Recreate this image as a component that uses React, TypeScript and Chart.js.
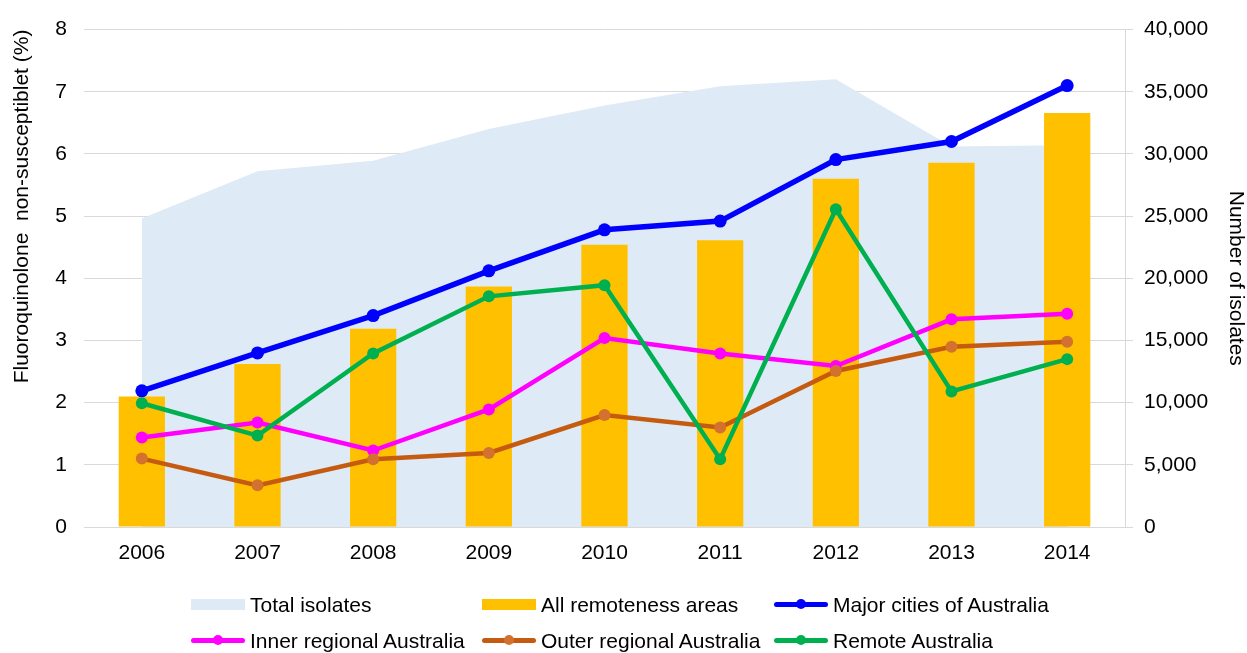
import React, { useEffect, useRef } from 'react';
import { Chart, registerables } from 'chart.js';

Chart.register(...registerables);

const years = ['2006', '2007', '2008', '2009', '2010', '2011', '2012', '2013', '2014'];
const totalIsolates = [24800, 28600, 29450, 32000, 33900, 35450, 36000, 30600, 30700];
const allRemoteness = [2.1, 2.62, 3.19, 3.87, 4.54, 4.61, 5.6, 5.86, 6.66];
const majorCities = [2.19, 2.8, 3.4, 4.12, 4.78, 4.92, 5.91, 6.2, 7.1];
const innerRegional = [1.44, 1.68, 1.23, 1.89, 3.04, 2.79, 2.59, 3.34, 3.43];
const outerRegional = [1.1, 0.67, 1.09, 1.19, 1.8, 1.6, 2.51, 2.9, 2.98];
const remoteAustralia = [1.99, 1.47, 2.79, 3.71, 3.89, 1.09, 5.11, 2.18, 2.7];

const leftTicks = [0, 1, 2, 3, 4, 5, 6, 7, 8];
const rightTicks = [0, 5000, 10000, 15000, 20000, 25000, 30000, 35000, 40000];

const seriesLabels = [
  'Total isolates',
  'All remoteness areas',
  'Major cities of Australia',
  'Inner regional Australia',
  'Outer regional Australia',
  'Remote Australia',
];

const leftTitle = 'Fluoroquinolone  non-susceptiblet (%)';
const rightTitle = 'Number of isolates';

const FONT = "'Liberation Sans', Arial, sans-serif";
const areaColor = '#DEEAF6';
const barColor = '#FFC000';
const blue = '#0000FF';
const pink = '#FF00FF';
const brown = '#C55A11';
const brownPoint = '#D2722E';
const green = '#00B050';
const gridColor = '#D9D9D9';

const legendSpec = [
  { kind: 'rect', color: areaColor },
  { kind: 'rect', color: barColor },
  { kind: 'line', color: blue, point: blue },
  { kind: 'line', color: pink, point: pink },
  { kind: 'line', color: brown, point: brownPoint },
  { kind: 'line', color: green, point: green },
];
const legendCols = [191, 482, 774];
const legendRows = [604, 640];

export default function App() {
  const canvasRef = useRef<HTMLCanvasElement | null>(null);

  useEffect(() => {
    document.body.style.margin = '0';
    const canvas = canvasRef.current;
    if (!canvas) return;
    const lineDs = (label: string, data: number[], color: string, pColor: string, width: number, radius: number, order: number) => ({
      type: 'line' as const,
      label,
      data,
      yAxisID: 'y',
      borderColor: color,
      backgroundColor: pColor,
      pointBackgroundColor: pColor,
      pointBorderColor: pColor,
      borderWidth: width,
      pointRadius: radius,
      pointBorderWidth: 0,
      fill: false,
      tension: 0,
      order,
    });
    const chart = new Chart(canvas, {
      type: 'bar',
      data: {
        labels: years,
        datasets: [
          {
            type: 'line' as const,
            label: seriesLabels[0],
            data: totalIsolates,
            yAxisID: 'y1',
            backgroundColor: areaColor,
            borderWidth: 0,
            borderColor: areaColor,
            pointRadius: 0,
            fill: 'origin',
            tension: 0,
            order: 6,
          },
          {
            type: 'bar' as const,
            label: seriesLabels[1],
            data: allRemoteness,
            yAxisID: 'y',
            backgroundColor: barColor,
            barPercentage: 0.4,
            categoryPercentage: 1,
            order: 5,
          },
          lineDs(seriesLabels[2], majorCities, blue, blue, 5.5, 6.5, 4),
          lineDs(seriesLabels[3], innerRegional, pink, pink, 4.5, 6, 3),
          lineDs(seriesLabels[4], outerRegional, brown, brownPoint, 4.5, 6, 2),
          lineDs(seriesLabels[5], remoteAustralia, green, green, 4.5, 6, 1),
        ] as any,
      },
      options: {
        animation: false,
        responsive: true,
        maintainAspectRatio: false,
        layout: { padding: { left: 0, right: 0, top: 27, bottom: 86 } },
        plugins: {
          legend: { display: false },
          tooltip: { enabled: false },
        },
        scales: {
          x: {
            offset: true,
            grid: { display: false, drawTicks: false },
            border: { display: true, color: gridColor, width: 1 },
            ticks: { color: '#000', font: { family: FONT, size: 21 }, padding: 14, maxRotation: 0 },
            afterFit: (s: any) => { s.height = 40; },
          },
          y: {
            position: 'left',
            min: 0,
            max: 8,
            afterBuildTicks: (s: any) => { s.ticks = leftTicks.map((v) => ({ value: v })); },
            grid: { color: gridColor, lineWidth: 1, drawTicks: false },
            border: { display: false },
            ticks: { color: '#000', font: { family: FONT, size: 21 }, padding: 17 },
            title: {
              display: true,
              text: leftTitle,
              align: 'end',
              color: '#000',
              font: { family: FONT, size: 21, lineHeight: 1 },
              padding: { top: 11.5, bottom: 0 },
            },
            afterFit: (s: any) => { s.width = 84; },
          },
          y1: {
            position: 'right',
            min: 0,
            max: 40000,
            afterBuildTicks: (s: any) => { s.ticks = rightTicks.map((v) => ({ value: v })); },
            grid: { drawOnChartArea: false, drawTicks: true, tickLength: 8, tickColor: gridColor, color: gridColor },
            border: { display: true, color: gridColor, width: 1 },
            ticks: {
              color: '#000',
              font: { family: FONT, size: 21 },
              padding: 11,
              callback: (v: any) => Number(v).toLocaleString('en-US'),
            },
            title: {
              display: true,
              text: rightTitle,
              color: '#000',
              font: { family: FONT, size: 21, lineHeight: 1 },
              padding: { top: 0.5, bottom: 0 },
            },
            afterFit: (s: any) => { s.width = 122; },
          },
        },
      } as any,
    });
    return () => chart.destroy();
  }, []);

  return (
    <div style={{ position: 'relative', width: 1247, height: 653, fontFamily: FONT }}>
      <canvas ref={canvasRef} style={{ display: 'block', width: '100%', height: '100%' }} />
      {seriesLabels.map((label, i) => {
        const spec = legendSpec[i];
        const left = legendCols[i % 3];
        const cy = legendRows[Math.floor(i / 3)];
        return (
          <div
            key={label}
            style={{
              position: 'absolute',
              left,
              top: cy - 18,
              height: 36,
              display: 'flex',
              alignItems: 'center',
              whiteSpace: 'nowrap',
              fontSize: 21,
              color: '#000',
            }}
          >
            {spec.kind === 'rect' ? (
              <div style={{ width: 54, height: 11, background: spec.color, marginRight: 5 }} />
            ) : (
              <div style={{ position: 'relative', width: 54, height: 12, marginRight: 5 }}>
                <div style={{ position: 'absolute', left: 0, right: 0, top: 3.5, height: 5, background: spec.color, borderRadius: 2.5 }} />
                <div style={{ position: 'absolute', left: 22, top: 1, width: 10, height: 10, borderRadius: 5, background: spec.point }} />
              </div>
            )}
            <span style={{ lineHeight: '21px' }}>{label}</span>
          </div>
        );
      })}
    </div>
  );
}
